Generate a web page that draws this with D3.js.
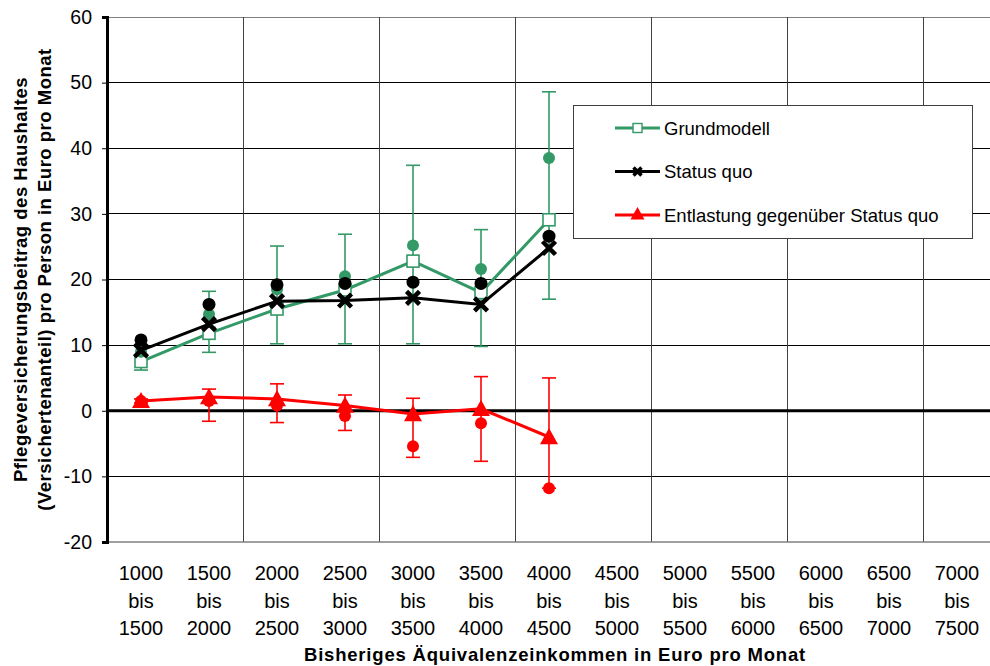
<!DOCTYPE html>
<html>
<head>
<meta charset="utf-8">
<script src="https://cdn.jsdelivr.net/npm/d3@7"></script>
<style>
  html, body { margin: 0; padding: 0; background: #fff; }
  svg { display: block; font-family: "Liberation Sans", Arial, sans-serif; }
</style>
</head>
<body>
<svg id="chart" width="990" height="666"></svg>
<script>
// Income brackets (lower and upper bound of each class)
const lowerBounds = [1000, 1500, 2000, 2500, 3000, 3500, 4000, 4500, 5000, 5500, 6000, 6500, 7000];
const upperBounds = [1500, 2000, 2500, 3000, 3500, 4000, 4500, 5000, 5500, 6000, 6500, 7000, 7500];
const categories = lowerBounds.map((d, i) => d + "-" + upperBounds[i]);

// Grundmodell: line values, point estimates and error range
const grundmodell     = [7.5, 11.8, 15.5, 18.4, 22.8, 18.0, 29.1];
const grundmodellDots = [9.0, 14.7, 18.5, 20.5, 25.2, 21.6, 38.5];
const grundmodellLow  = [6.2, 8.9, 10.2, 10.2, 10.2, 9.8, 17.0];
const grundmodellHigh = [10.0, 18.2, 25.1, 26.9, 37.4, 27.6, 48.6];

// Status quo: line values and point estimates
const statusQuo     = [9.2, 13.2, 16.7, 16.8, 17.2, 16.2, 24.8];
const statusQuoDots = [10.8, 16.2, 19.2, 19.4, 19.6, 19.4, 26.6];

// Entlastung gegenüber Status quo: line values, point estimates and error range
const entlastung     = [1.5, 2.1, 1.8, 0.8, -0.5, 0.3, -4.0];
const entlastungDots = [1.5, 1.5, 0.8, -0.8, -5.4, -1.9, -11.8];
const entlastungLow  = [1.2, -1.6, -1.8, -3.0, -7.1, -7.7, -11.8];
const entlastungHigh = [1.8, 3.3, 4.1, 2.4, 1.9, 5.2, 5.0];

const yTicks = [-20, -10, 0, 10, 20, 30, 40, 50, 60];

const legendItems = [
  { label: "Grundmodell", key: "grund" },
  { label: "Status quo", key: "status" },
  { label: "Entlastung gegenüber Status quo", key: "ent" }
];

const GREEN = "#339966", BLACK = "#000000", RED = "#ff0000";

const svg = d3.select("#chart");
const plotLeft = 107, plotRight = 991, plotTop = 17, plotBottom = 542;

const x = d3.scaleBand().domain(categories).range([plotLeft, plotRight]).padding(0);
const y = d3.scaleLinear().domain([-20, 60]).range([plotBottom, plotTop]);
const cx = i => x(categories[i]) + x.bandwidth() / 2;

// Horizontal gridlines
svg.append("g").selectAll("line").data(yTicks.filter(t => t !== 0 && t !== -20)).join("line")
  .attr("x1", plotLeft).attr("x2", plotRight)
  .attr("y1", d => y(d)).attr("y2", d => y(d))
  .attr("stroke", d => d === 60 ? "#808080" : "#000").attr("stroke-width", 1)
  .attr("shape-rendering", "crispEdges");

// Vertical gridlines on every second bracket boundary
const vIdx = d3.range(2, categories.length, 2);
svg.append("g").selectAll("line").data(vIdx).join("line")
  .attr("x1", i => x(categories[i])).attr("x2", i => x(categories[i]))
  .attr("y1", plotTop).attr("y2", plotBottom)
  .attr("stroke", "#404040").attr("stroke-width", 1)
  .attr("shape-rendering", "crispEdges");

// Bottom axis line
svg.append("line")
  .attr("x1", plotLeft).attr("x2", plotRight).attr("y1", plotBottom).attr("y2", plotBottom)
  .attr("stroke", "#808080").attr("stroke-width", 1.5);

// Y axis with tick labels
const yAxis = d3.axisLeft(y).tickValues(yTicks).tickSize(5).tickPadding(10).tickFormat(d => String(d));
const yg = svg.append("g").attr("transform", `translate(${plotLeft},0)`).call(yAxis);
yg.select(".domain").attr("stroke", "#000").attr("stroke-width", 3);
yg.selectAll(".tick line").attr("stroke", "#000").attr("stroke-width", 1);
yg.selectAll(".tick text").attr("font-size", 19.5).attr("fill", "#000")
  .attr("font-family", "Liberation Sans, Arial, sans-serif");

// Zero line
svg.append("line")
  .attr("x1", plotLeft).attr("x2", plotRight).attr("y1", y(0)).attr("y2", y(0))
  .attr("stroke", "#000").attr("stroke-width", 3);

// X tick labels (three lines each)
const xl = svg.append("g").attr("font-size", 20).attr("text-anchor", "middle").attr("fill", "#000");
categories.forEach((c, i) => {
  const t = xl.append("text").attr("x", cx(i)).attr("y", 580);
  t.append("tspan").attr("x", cx(i)).attr("dy", 0).text(lowerBounds[i]);
  t.append("tspan").attr("x", cx(i)).attr("dy", 27.5).text("bis");
  t.append("tspan").attr("x", cx(i)).attr("dy", 27.5).text(upperBounds[i]);
});

// Axis titles
svg.append("text")
  .attr("x", 555).attr("y", 661)
  .attr("text-anchor", "middle").attr("font-size", 18.5).attr("font-weight", "bold")
  .attr("letter-spacing", 0.8)
  .text("Bisheriges Äquivalenzeinkommen in Euro pro Monat");

const yt = svg.append("text")
  .attr("transform", `translate(0,${(plotTop + plotBottom) / 2}) rotate(-90)`)
  .attr("text-anchor", "middle").attr("font-size", 18.5).attr("font-weight", "bold")
  .attr("letter-spacing", 0.5);
yt.append("tspan").attr("x", 0).attr("y", 27).text("Pflegeversicherungsbeitrag des Haushaltes");
yt.append("tspan").attr("x", 0).attr("y", 51).text("(Versichertenanteil) pro Person in Euro pro Monat");

// Error bars
function errorBars(low, high, color) {
  const g = svg.append("g").attr("stroke", color).attr("stroke-width", 1.6);
  low.forEach((lo, i) => {
    const hi = high[i];
    g.append("line").attr("x1", cx(i)).attr("x2", cx(i)).attr("y1", y(lo)).attr("y2", y(hi));
    g.append("line").attr("x1", cx(i) - 7).attr("x2", cx(i) + 7).attr("y1", y(lo)).attr("y2", y(lo));
    g.append("line").attr("x1", cx(i) - 7).attr("x2", cx(i) + 7).attr("y1", y(hi)).attr("y2", y(hi));
  });
}

const lineGen = d3.line().x((d, i) => cx(i)).y(d => y(d));

function dots(values, color, r) {
  svg.append("g").selectAll("circle").data(values).join("circle")
    .attr("cx", (d, i) => cx(i)).attr("cy", d => y(d)).attr("r", r).attr("fill", color);
}

function squareMarker(g, px, py) {
  g.append("rect").attr("x", px - 6).attr("y", py - 6).attr("width", 12).attr("height", 12)
    .attr("fill", "#fff").attr("stroke", GREEN).attr("stroke-width", 1.6);
}
function crossMarker(g, px, py, s, w) {
  g.append("path").attr("d", `M${px - s},${py - s}L${px + s},${py + s}M${px - s},${py + s}L${px + s},${py - s}`)
    .attr("stroke", BLACK).attr("stroke-width", w).attr("fill", "none");
}
function triangleMarker(g, px, py, s) {
  g.append("path").attr("d", `M${px},${py - s}L${px + s},${py + s * 0.8}L${px - s},${py + s * 0.8}Z`)
    .attr("fill", RED);
}

// Grundmodell
errorBars(grundmodellLow, grundmodellHigh, GREEN);
svg.append("path").attr("d", lineGen(grundmodell)).attr("fill", "none").attr("stroke", GREEN).attr("stroke-width", 3);
const gm = svg.append("g");
grundmodell.forEach((v, i) => squareMarker(gm, cx(i), y(v)));
dots(grundmodellDots, GREEN, 6);

// Status quo
svg.append("path").attr("d", lineGen(statusQuo)).attr("fill", "none").attr("stroke", BLACK).attr("stroke-width", 3);
dots(statusQuoDots, BLACK, 6.5);
const sm = svg.append("g");
statusQuo.forEach((v, i) => crossMarker(sm, cx(i), y(v), 6.5, 4.5));

// Entlastung
errorBars(entlastungLow, entlastungHigh, RED);
dots(entlastungDots, RED, 6);
svg.append("path").attr("d", lineGen(entlastung)).attr("fill", "none").attr("stroke", RED).attr("stroke-width", 3);
const em = svg.append("g");
entlastung.forEach((v, i) => triangleMarker(em, cx(i), y(v), 9));

// Legend
const lg = svg.append("g");
lg.append("rect").attr("x", 573.5).attr("y", 105.5).attr("width", 399).attr("height", 133)
  .attr("fill", "#fff").attr("stroke", "#404040").attr("stroke-width", 1);
legendItems.forEach((item, k) => {
  const ly = 128 + k * 43.5;
  const color = item.key === "grund" ? GREEN : item.key === "status" ? BLACK : RED;
  lg.append("line").attr("x1", 615).attr("x2", 660).attr("y1", ly).attr("y2", ly)
    .attr("stroke", color).attr("stroke-width", 3);
  if (item.key === "grund") {
    lg.append("rect").attr("x", 633).attr("y", ly - 4.5).attr("width", 9).attr("height", 9)
      .attr("fill", "#fff").attr("stroke", GREEN).attr("stroke-width", 1.4);
  } else if (item.key === "status") {
    crossMarker(lg, 637.5, ly, 4, 3.5);
  } else {
    triangleMarker(lg, 637.5, ly - 1, 7);
  }
  lg.append("text").attr("x", 664).attr("y", ly + 6.5).attr("font-size", 18.5).attr("fill", "#000").text(item.label);
});
</script>
</body>
</html>
